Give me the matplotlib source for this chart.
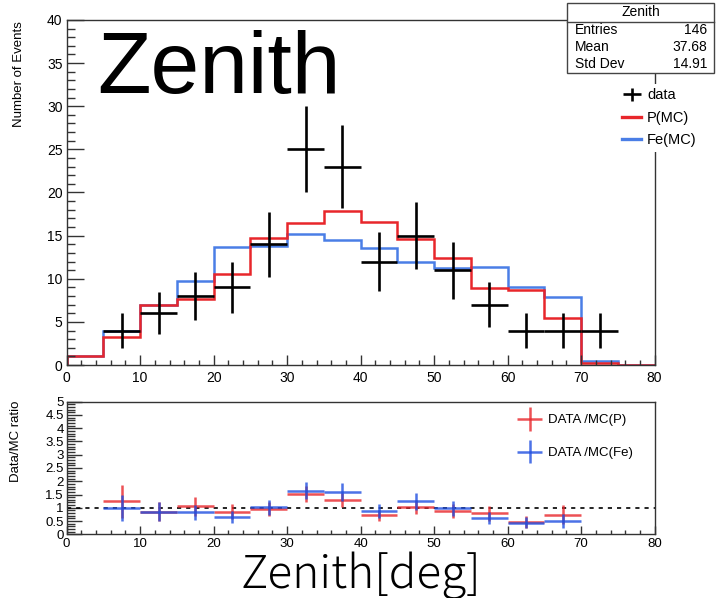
import numpy as np
import matplotlib
matplotlib.use('Agg')
import matplotlib.pyplot as plt
from matplotlib.lines import Line2D
from matplotlib.patches import Rectangle
from matplotlib.ticker import MultipleLocator
from matplotlib.container import ErrorbarContainer
from matplotlib.legend_handler import HandlerErrorbar

plt.rcParams['font.family'] = ['Liberation Sans', 'DejaVu Sans']

# binning: 16 bins of 5 deg over 0-80
edges = np.arange(0, 85, 5)
centers = edges[:-1] + 2.5

# observed events per bin
data_counts = [0, 4, 6, 8, 9, 14, 25, 23, 12, 15, 11, 7, 4, 4, 4, 0]
# MC expectation, proton
mc_p = [1.1, 3.2, 7.0, 7.6, 10.5, 14.7, 16.5, 17.8, 16.6, 14.6, 12.4, 8.9, 8.7, 5.4, 0.2, 0.05]
# MC expectation, iron
mc_fe = [1.1, 4.0, 7.0, 9.7, 13.7, 13.8, 15.2, 14.5, 13.6, 12.0, 11.3, 11.4, 9.0, 7.9, 0.5, 0.05]

stats_rows = [('Entries', '146'), ('Mean', '37.68'), ('Std Dev', '14.91')]

RED = '#e8262b'
BLUE = '#4a7ee6'
SPINE = '#333333'

data_counts = np.array(data_counts, dtype=float)
mc_p = np.array(mc_p)
mc_fe = np.array(mc_fe)

fig = plt.figure(figsize=(7.17, 5.98), dpi=100)
ax = fig.add_axes([0.093, 0.3896, 0.820, 0.577])
axr = fig.add_axes([0.093, 0.1065, 0.820, 0.2218])

# ---- upper panel: distributions ----
ax.stairs(mc_fe, edges, color=BLUE, lw=1.8, label='Fe(MC)')
ax.stairs(mc_p, edges, color=RED, lw=1.8, label='P(MC)')
has = data_counts > 0
eb = ax.errorbar(centers[has], data_counts[has], xerr=2.5, yerr=np.sqrt(data_counts[has]),
                 fmt='none', ecolor='black', elinewidth=1.9, capsize=0, label='data')

ax.set_xlim(0, 80)
ax.set_ylim(0, 40)
ax.xaxis.set_major_locator(MultipleLocator(10))
ax.xaxis.set_minor_locator(MultipleLocator(2))
ax.yaxis.set_major_locator(MultipleLocator(5))
ax.yaxis.set_minor_locator(MultipleLocator(1))
ax.tick_params(axis='both', which='both', direction='in', labelsize=10,
               top=False, right=False, color=SPINE, width=1.0)
ax.tick_params(axis='y', which='major', length=12, pad=3)
ax.tick_params(axis='y', which='minor', length=5.5)
ax.tick_params(axis='x', which='major', length=7, pad=4)
ax.tick_params(axis='x', which='minor', length=3.5)
ax.set_ylabel('Number of Events', fontsize=9.5)
ax.yaxis.set_label_coords(-0.071, 0.843)
for s in ax.spines.values():
    s.set_color(SPINE)
    s.set_linewidth(1.0)

handles = [eb, Line2D([], [], color=RED, lw=2.4), Line2D([], [], color=BLUE, lw=2.4)]
leg = ax.legend(handles, ['data', 'P(MC)', 'Fe(MC)'], loc='upper left',
                bbox_to_anchor=(0.862, 1 - 84 / 598), bbox_transform=fig.transFigure,
                frameon=True, facecolor='white', edgecolor='none', framealpha=1,
                fontsize=10.5, handlelength=1.3, handletextpad=0.4,
                labelspacing=0.58, borderpad=0.3, borderaxespad=0,
                handler_map={ErrorbarContainer: HandlerErrorbar(xerr_size=0.6, yerr_size=0.45)})
leg.get_frame().set_boxstyle('square', pad=0)

# stats box
bx0, by0, bw, bh = 567 / 717, 1 - 73 / 598, 147 / 717, 70 / 598
fig.add_artist(Rectangle((bx0, by0), bw, bh, transform=fig.transFigure,
                         facecolor='white', edgecolor='#444444', lw=1.0, zorder=5))
fig.add_artist(Line2D([bx0, bx0 + bw], [1 - 22 / 598] * 2, transform=fig.transFigure,
                      color='#444444', lw=1.0, zorder=6))
fig.text(bx0 + bw / 2, 1 - 12 / 598, 'Zenith', ha='center', va='center', fontsize=10, zorder=7)
for i, (k, v) in enumerate(stats_rows):
    yy = 1 - (30 + 17 * i) / 598
    fig.text(575 / 717, yy, k, ha='left', va='center', fontsize=10, zorder=7)
    fig.text(707 / 717, yy, v, ha='right', va='center', fontsize=10, zorder=7)

# big title inside the upper panel
fig.text(97 / 717, 1 - 93 / 598, 'Zenith', ha='left', va='baseline', fontsize=63)

# ---- lower panel: ratios ----
def ratio(num, den):
    r = np.where(den > 0, num / np.where(den > 0, den, 1), np.nan)
    err = np.where(num > 0, r / np.sqrt(np.where(num > 0, num, 1)), np.nan)
    keep = (num > 0) & (r <= 5)
    return r[keep], err[keep], keep

axr.axhline(1.0, color='black', lw=1.2, ls=(0, (2.5, 3)))
rp, ep, kp = ratio(data_counts, mc_p)
rf, ef, kf = ratio(data_counts, mc_fe)
ebp = axr.errorbar(centers[kp], rp, xerr=2.5, yerr=ep, fmt='none', ecolor=RED,
                   elinewidth=1.8, capsize=0, alpha=0.8)
ebf = axr.errorbar(centers[kf], rf, xerr=2.5, yerr=ef, fmt='none', ecolor='#1f4fe0',
                   elinewidth=1.8, capsize=0, alpha=0.8)

axr.set_xlim(0, 80)
axr.set_ylim(0, 5)
axr.xaxis.set_major_locator(MultipleLocator(10))
axr.xaxis.set_minor_locator(MultipleLocator(2))
axr.yaxis.set_major_locator(MultipleLocator(0.5))
axr.yaxis.set_minor_locator(MultipleLocator(0.1))
axr.yaxis.set_major_formatter(plt.FuncFormatter(lambda v, p: f'{v:g}'))
axr.tick_params(axis='both', which='both', direction='in', labelsize=9.5,
                top=False, right=False, color=SPINE, width=1.0)
axr.tick_params(axis='y', which='major', length=11, pad=2)
axr.tick_params(axis='y', which='minor', length=5.5)
axr.tick_params(axis='x', which='major', length=6, pad=2.5)
axr.tick_params(axis='x', which='minor', length=3)
axr.set_ylabel('Data/MC ratio', fontsize=9.5)
axr.yaxis.set_label_coords(-0.076, 0.70)
for s in axr.spines.values():
    s.set_color(SPINE)
    s.set_linewidth(1.0)

axr.legend([ebp, ebf], ['DATA /MC(P)', 'DATA /MC(Fe)'], loc='upper left',
           bbox_to_anchor=(0.745, 0.995), frameon=False, fontsize=9.5,
           handlelength=2.0, handletextpad=0.4, labelspacing=1.55,
           handler_map={ErrorbarContainer: HandlerErrorbar(xerr_size=0.95, yerr_size=0.9)})

fig.text(0.503, 1 - 588 / 598, 'Zenith[deg]', ha='center', va='baseline',
         fontsize=33, family=['Noto Sans CJK JP', 'DejaVu Sans'], fontweight='light')

fig.savefig('out.png', dpi=100)
